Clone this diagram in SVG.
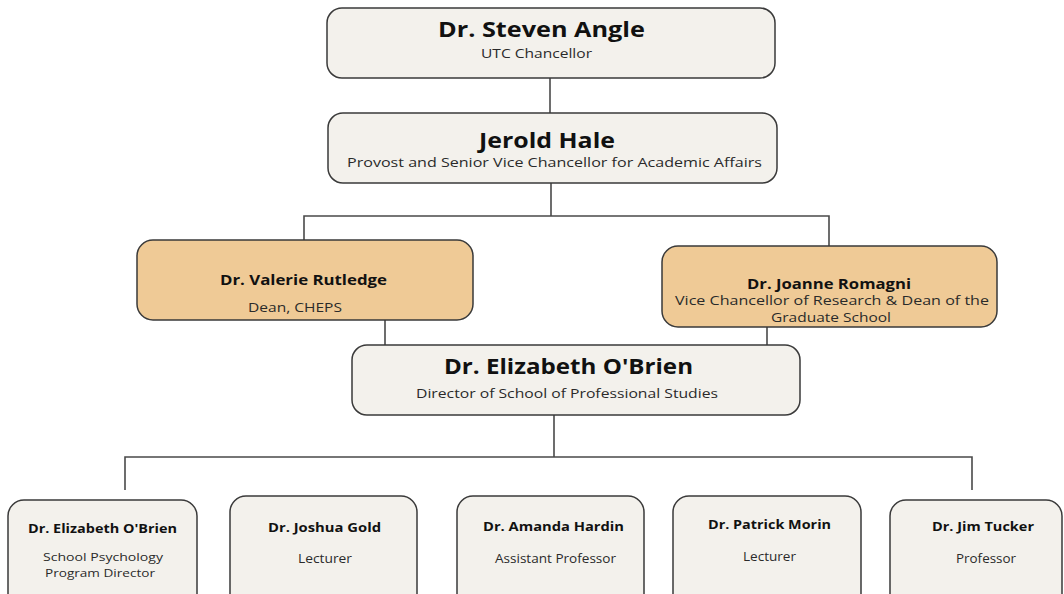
<svg xmlns="http://www.w3.org/2000/svg" width="1064" height="594" viewBox="0 0 1064 594">
<style>
.box{fill:#f3f1ec;stroke:#3a3a3a;stroke-width:1.5}
.org{fill:#efca96;stroke:#3a3a3a;stroke-width:1.5}
.t{font-family:"Open Sans","Noto Sans",sans-serif;font-weight:700;fill:#111}
.s{font-family:"Open Sans","Noto Sans",sans-serif;font-weight:400;fill:#2a2a2a}
.c{fill:none;stroke:#4a4a4a;stroke-width:1.6}
</style>
<rect width="1064" height="594" fill="#ffffff"/>
<g id="connectors">
<path class="c" d="M550,78 V113"/>
<path class="c" d="M551,183 V216 M304,240 V216 H829 V246"/>
<path class="c" d="M385,320 V345 M767,327 V345"/>
<path class="c" d="M554,415 V457 M125,490 V457 H972 V490"/>
</g>
<g id="angle">
<rect class="box" x="327" y="8" width="448" height="70" rx="15"/>
<text class="t" x="438" y="37" font-size="21" textLength="207" lengthAdjust="spacingAndGlyphs">Dr. Steven Angle</text>
<text class="s" x="481" y="58" font-size="12" textLength="111" lengthAdjust="spacingAndGlyphs">UTC Chancellor</text>
</g>
<g id="hale">
<rect class="box" x="328" y="113" width="449" height="70" rx="15"/>
<text class="t" x="479" y="148" font-size="21" textLength="136" lengthAdjust="spacingAndGlyphs">Jerold Hale</text>
<text class="s" x="347" y="167" font-size="13.5" textLength="415" lengthAdjust="spacingAndGlyphs">Provost and Senior Vice Chancellor for Academic Affairs</text>
</g>
<g id="rutledge">
<rect class="org" x="137" y="240" width="336" height="80" rx="16"/>
<text class="t" x="220" y="285" font-size="13.5" textLength="167" lengthAdjust="spacingAndGlyphs">Dr. Valerie Rutledge</text>
<text class="s" x="248" y="312" font-size="12.5" textLength="94" lengthAdjust="spacingAndGlyphs">Dean, CHEPS</text>
</g>
<g id="romagni">
<rect class="org" x="662" y="246" width="335" height="81" rx="16"/>
<text class="t" x="747" y="289" font-size="13.5" textLength="164" lengthAdjust="spacingAndGlyphs">Dr. Joanne Romagni</text>
<text class="s" x="675" y="305" font-size="13.5" textLength="314" lengthAdjust="spacingAndGlyphs">Vice Chancellor of Research &amp; Dean of the</text>
<text class="s" x="771" y="322" font-size="13.5" textLength="120" lengthAdjust="spacingAndGlyphs">Graduate School</text>
</g>
<g id="obrien-director">
<rect class="box" x="352" y="345" width="448" height="70" rx="15"/>
<text class="t" x="444" y="374" font-size="21" textLength="249" lengthAdjust="spacingAndGlyphs">Dr. Elizabeth O'Brien</text>
<text class="s" x="416" y="398" font-size="12.5" textLength="302" lengthAdjust="spacingAndGlyphs">Director of School of Professional Studies</text>
</g>
<g id="obrien-psych">
<rect class="box" x="8" y="500" width="189" height="110" rx="16"/>
<text class="t" x="28" y="533" font-size="12.5" textLength="149" lengthAdjust="spacingAndGlyphs">Dr. Elizabeth O'Brien</text>
<text class="s" x="43" y="561" font-size="11.5" textLength="120" lengthAdjust="spacingAndGlyphs">School Psychology</text>
<text class="s" x="45" y="577" font-size="11.5" textLength="110" lengthAdjust="spacingAndGlyphs">Program Director</text>
</g>
<g id="gold">
<rect class="box" x="230" y="496" width="187" height="114" rx="16"/>
<text class="t" x="268" y="532" font-size="12.5" textLength="113" lengthAdjust="spacingAndGlyphs">Dr. Joshua Gold</text>
<text class="s" x="298" y="563" font-size="12" textLength="54" lengthAdjust="spacingAndGlyphs">Lecturer</text>
</g>
<g id="hardin">
<rect class="box" x="457" y="496" width="187" height="114" rx="16"/>
<text class="t" x="483" y="531" font-size="12.5" textLength="141" lengthAdjust="spacingAndGlyphs">Dr. Amanda Hardin</text>
<text class="s" x="495" y="563" font-size="12" textLength="121" lengthAdjust="spacingAndGlyphs">Assistant Professor</text>
</g>
<g id="morin">
<rect class="box" x="673" y="496" width="188" height="114" rx="16"/>
<text class="t" x="708" y="529" font-size="12.5" textLength="123" lengthAdjust="spacingAndGlyphs">Dr. Patrick Morin</text>
<text class="s" x="743" y="561" font-size="12" textLength="53" lengthAdjust="spacingAndGlyphs">Lecturer</text>
</g>
<g id="tucker">
<rect class="box" x="890" y="500" width="172" height="110" rx="16"/>
<text class="t" x="932" y="531" font-size="12.5" textLength="102" lengthAdjust="spacingAndGlyphs">Dr. Jim Tucker</text>
<text class="s" x="956" y="563" font-size="12" textLength="60" lengthAdjust="spacingAndGlyphs">Professor</text>
</g>
</svg>
